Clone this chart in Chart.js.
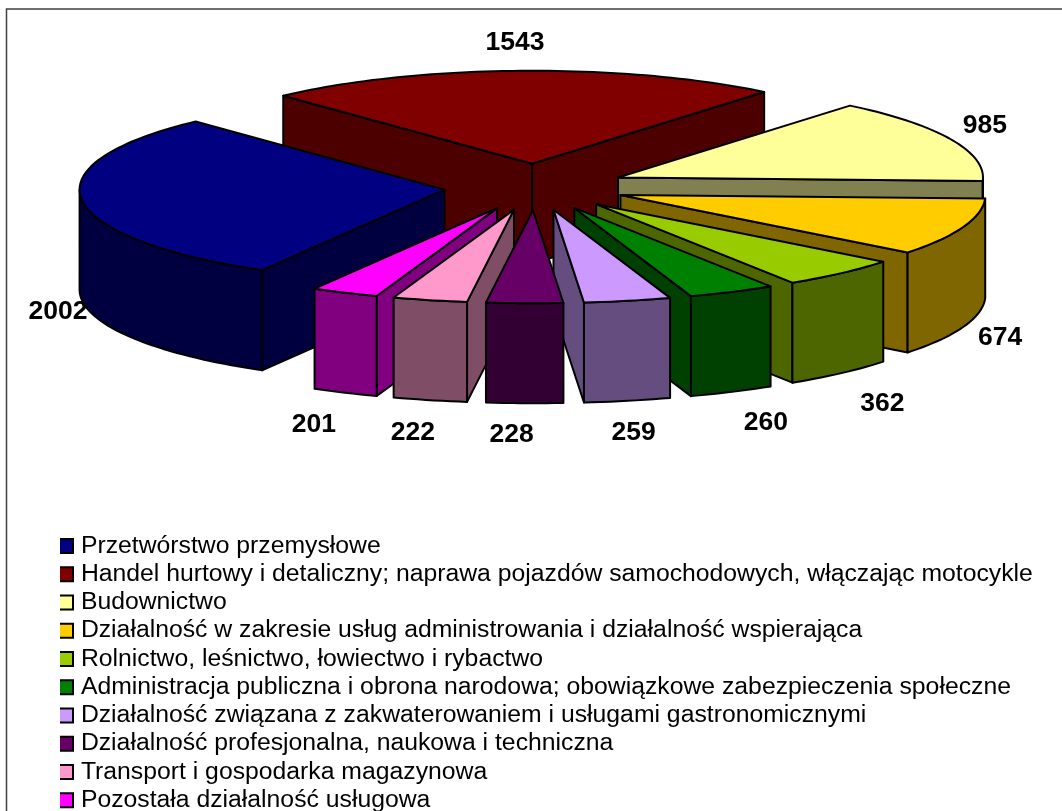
<!DOCTYPE html>
<html>
<head>
<meta charset="utf-8">
<style>
  html, body { margin: 0; padding: 0; background: #fff; overflow: hidden; }
  canvas { display: block; }
</style>
</head>
<body>
<canvas id="chartCanvas" width="1062" height="816"></canvas>
<script src="https://cdn.jsdelivr.net/npm/chart.js@4"></script>
<script>
var categories = [
  'Przetwórstwo przemysłowe',
  'Handel hurtowy i detaliczny; naprawa pojazdów samochodowych, włączając motocykle',
  'Budownictwo',
  'Działalność w zakresie usług administrowania i działalność wspierająca',
  'Rolnictwo, leśnictwo, łowiectwo i rybactwo',
  'Administracja publiczna i obrona narodowa; obowiązkowe zabezpieczenia społeczne',
  'Działalność związana z zakwaterowaniem i usługami gastronomicznymi',
  'Działalność profesjonalna, naukowa i techniczna',
  'Transport i gospodarka magazynowa',
  'Pozostała działalność usługowa'
];
var values = [2002, 1543, 985, 674, 362, 260, 259, 228, 222, 201];
var topColors = ['#000080', '#800000', '#FFFF99', '#FFCC00', '#99CC00', '#008000', '#CC99FF', '#660066', '#FF99CC', '#FF00FF'];
var wallColors = ['#000040', '#4D0000', '#808050', '#806600', '#4D6600', '#004000', '#664D80', '#330033', '#804D66', '#800080'];

// label nudges, from the middle of each slice's rim
var labelDx = [-24, -6, 34, 37, 41, 34, 6, -13, -17, -31];
var labelDy = [112, -28, -14, 111, 131, 131, 132, 131, 133, 132];

// fake 3D: tilt of the pie, height of the walls, explosion distance
var PIE_X = 535, PIE_Y = 187, TILT = 0.255, DEPTH = 100, EXPLODE = 91, EDGE = 2;

function slicePoint(arc, angle, radius, drop) {
  var mid = (arc.startAngle + arc.endAngle) / 2;
  return {
    x: PIE_X + Math.cos(mid) * EXPLODE + Math.cos(angle) * radius,
    y: PIE_Y + (Math.sin(mid) * EXPLODE + Math.sin(angle) * radius) * TILT + drop
  };
}

function traceFace(ctx, pts) {
  ctx.beginPath();
  pts.forEach(function (p, i) { if (i === 0) ctx.moveTo(p.x, p.y); else ctx.lineTo(p.x, p.y); });
  ctx.closePath();
  ctx.fill();
  ctx.stroke();
}

function rimPoints(arc, from, to, drop) {
  var pts = [], steps = Math.max(2, Math.ceil((to - from) * 40));
  for (var i = 0; i <= steps; i++) pts.push(slicePoint(arc, from + (to - from) * i / steps, arc.outerRadius, drop));
  return pts;
}

function drawWalls(ctx, arc, color) {
  var s = arc.startAngle, e = arc.endAngle, r = arc.outerRadius;
  ctx.fillStyle = color;
  ctx.strokeStyle = '#000';
  ctx.lineWidth = EDGE;
  ctx.lineJoin = 'round';

  // cut faces, only the ones turned towards the viewer
  if (Math.cos(s) < 0) traceFace(ctx, [slicePoint(arc, s, 0, 0), slicePoint(arc, s, r, 0), slicePoint(arc, s, r, DEPTH), slicePoint(arc, s, 0, DEPTH)]);
  if (Math.cos(e) > 0) traceFace(ctx, [slicePoint(arc, e, 0, 0), slicePoint(arc, e, r, 0), slicePoint(arc, e, r, DEPTH), slicePoint(arc, e, 0, DEPTH)]);

  // outer wall, the part of the rim between 0 and PI (front half) on every turn
  for (var k = -1; k <= 1; k++) {
    var from = Math.max(s, k * 2 * Math.PI), to = Math.min(e, k * 2 * Math.PI + Math.PI);
    if (to > from) traceFace(ctx, rimPoints(arc, from, to, 0).concat(rimPoints(arc, from, to, DEPTH).reverse()));
  }
}

function drawTopOutline(ctx, arc) {
  var pts = [slicePoint(arc, arc.startAngle, 0, 0)].concat(rimPoints(arc, arc.startAngle, arc.endAngle, 0));
  ctx.beginPath();
  pts.forEach(function (p, i) { if (i === 0) ctx.moveTo(p.x, p.y); else ctx.lineTo(p.x, p.y); });
  ctx.closePath();
  ctx.strokeStyle = '#000';
  ctx.lineWidth = EDGE;
  ctx.lineJoin = 'round';
  ctx.stroke();
}

var pie3d = {
  id: 'pie3d',
  beforeDraw: function (chart) {
    var ctx = chart.ctx;
    ctx.save();
    ctx.strokeStyle = '#404040';
    ctx.lineWidth = 1.5;
    ctx.beginPath();
    ctx.moveTo(6.5, 816);
    ctx.lineTo(6.5, 9);
    ctx.lineTo(1062, 9);
    ctx.stroke();
    ctx.restore();
  },
  // slices have to go back to front, so the plugin paints them itself
  beforeDatasetsDraw: function (chart) {
    var ctx = chart.ctx;
    var arcs = chart.getDatasetMeta(0).data;
    var order = arcs.map(function (a, i) { return i; });
    order.sort(function (a, b) {
      var ma = (arcs[a].startAngle + arcs[a].endAngle) / 2, mb = (arcs[b].startAngle + arcs[b].endAngle) / 2;
      return Math.sin(ma) - Math.sin(mb);
    });
    order.forEach(function (i) {
      var arc = arcs[i];
      var mid = (arc.startAngle + arc.endAngle) / 2;
      ctx.save();
      drawWalls(ctx, arc, wallColors[i]);
      ctx.restore();
      ctx.save();
      ctx.translate(PIE_X, PIE_Y);
      ctx.scale(1, TILT);
      ctx.translate(Math.cos(mid) * EXPLODE - arc.x, Math.sin(mid) * EXPLODE - arc.y);
      arc.draw(ctx);
      ctx.restore();
      drawTopOutline(ctx, arc);
    });
    return false;
  },
  afterDraw: function (chart) {
    var ctx = chart.ctx;
    var arcs = chart.getDatasetMeta(0).data;
    ctx.save();
    ctx.font = 'bold 26.5px "Liberation Sans", Arial, sans-serif';
    ctx.fillStyle = '#000';
    ctx.textAlign = 'center';
    ctx.textBaseline = 'middle';
    arcs.forEach(function (arc, i) {
      var mid = (arc.startAngle + arc.endAngle) / 2;
      var p = slicePoint(arc, mid, arc.outerRadius, 0);
      ctx.fillText(String(values[i]), p.x + labelDx[i], p.y + labelDy[i]);
    });
    ctx.restore();
  }
};

new Chart(document.getElementById('chartCanvas').getContext('2d'), {
  type: 'pie',
  data: {
    labels: categories,
    datasets: [{
      data: values,
      backgroundColor: topColors,
      borderWidth: 0,
      clip: false
    }]
  },
  options: {
    responsive: false,
    animation: false,
    radius: 365,
    rotation: 210,
    layout: { padding: { left: 60, right: 0, bottom: 0, top: 0 } },
    plugins: {
      tooltip: { enabled: false },
      legend: {
        position: 'chartArea',
        align: 'end',
        labels: {
          usePointStyle: true,
          boxWidth: 5,
          boxHeight: 14,
          padding: 3.5,
          color: '#000',
          font: { family: '"Liberation Sans", Arial, sans-serif', size: 24.75 },
          generateLabels: function (chart) {
            return categories.map(function (name, i) {
              return { text: name, fillStyle: topColors[i], strokeStyle: '#000', lineWidth: 2, pointStyle: 'rect', rotation: 0, index: i };
            });
          }
        }
      }
    }
  },
  plugins: [pie3d]
});
</script>
</body>
</html>
